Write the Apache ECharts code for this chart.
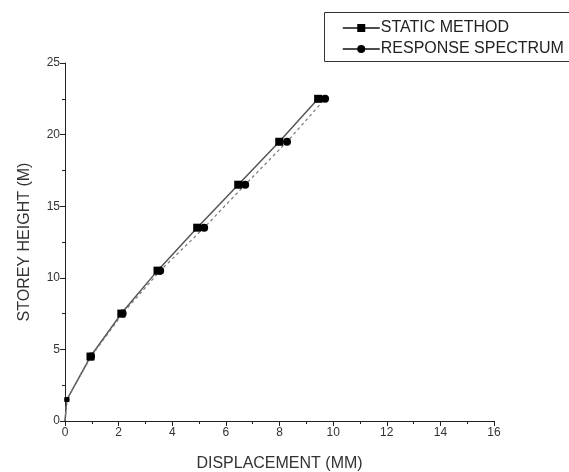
<!DOCTYPE html>
<html><head><meta charset="utf-8">
<script src="https://cdn.jsdelivr.net/npm/echarts@6/dist/echarts.min.js"></script>
<style>html,body{margin:0;padding:0;background:#fff}#c{width:569px;height:472px}</style>
</head><body><div id="c"></div>
<script>
const heights = [0, 1.5, 4.5, 7.5, 10.5, 13.5, 16.5, 19.5, 22.5];
const staticDisp = [0, 0.07, 0.95, 2.1, 3.45, 4.93, 6.46, 7.99, 9.44];
const responseDisp = [0, 0.07, 0.97, 2.15, 3.55, 5.19, 6.72, 8.28, 9.70];
const xTicks = [0, 2, 4, 6, 8, 10, 12, 14, 16];
const yTicks = [0, 5, 10, 15, 20, 25];

const font = 'Liberation Sans, Arial, sans-serif';
function pts(xs) {
  return xs.map((x, i) => {
    const p = {value: [x, heights[i]]};
    if (i === 0) p.symbol = 'none';
    if (i === 1) p.symbolSize = 5;
    return p;
  });
}
const chart = echarts.init(document.getElementById('c'));
chart.setOption({
  animation: false,
  backgroundColor: '#fff',
  grid: {left: 65, right: 75, top: 63, bottom: 51, containLabel: false, outerBoundsMode: 'none'},
  graphic: [{type: 'rect', shape: {x: 324.5, y: 12.5, width: 260, height: 49}, style: {fill: 'none', stroke: '#333', lineWidth: 1}}],
  legend: {
    orient: 'vertical', left: 337, top: 15, itemWidth: 37, itemHeight: 10, itemGap: 5,
    textStyle: {fontFamily: font, fontSize: 16, color: '#222', padding: [0,0,0,-4]},
    data: [
      {name: 'STATIC METHOD', lineStyle: {color: '#111', type: 'solid', width: 1.5}},
      {name: 'RESPONSE SPECTRUM', lineStyle: {color: '#111', type: 'solid', width: 1.5}}
    ]
  },
  xAxis: {
    type: 'value', min: 0, max: 16, interval: 2,
    name: 'DISPLACEMENT (MM)', nameLocation: 'middle', nameGap: 35,
    nameTextStyle: {fontFamily: font, fontSize: 16, color: '#333'},
    axisLine: {show: true, lineStyle: {color: '#222', width: 1}},
    axisTick: {show: true, length: 5, lineStyle: {color: '#222'}},
    minorTick: {show: true, splitNumber: 2, length: 3, lineStyle: {color: '#222'}},
    splitLine: {show: false},
    axisLabel: {fontFamily: font, fontSize: 12, color: '#333', margin: 6,
      formatter: v => xTicks.includes(v) ? String(v) : ''}
  },
  yAxis: {
    type: 'value', min: 0, max: 25, interval: 5,
    name: 'STOREY HEIGHT (M)', nameLocation: 'middle', nameGap: 32,
    nameTextStyle: {fontFamily: font, fontSize: 16, color: '#333'},
    axisLine: {show: true, lineStyle: {color: '#222', width: 1}},
    axisTick: {show: true, length: 5, lineStyle: {color: '#222'}},
    minorTick: {show: true, splitNumber: 2, length: 3, lineStyle: {color: '#222'}},
    splitLine: {show: false},
    axisLabel: {fontFamily: font, fontSize: 12, color: '#333', margin: 5,
      formatter: v => yTicks.includes(v) ? String(v) : ''}
  },
  series: [
    {name: 'STATIC METHOD', type: 'line', data: pts(staticDisp),
     symbol: 'rect', symbolSize: 8, showAllSymbol: true,
     lineStyle: {color: '#555', width: 1.5}, itemStyle: {color: '#000'}},
    {name: 'RESPONSE SPECTRUM', type: 'line', data: pts(responseDisp),
     symbol: 'circle', symbolSize: 8, showAllSymbol: true,
     lineStyle: {color: '#777', width: 1.2, type: [3, 3]}, itemStyle: {color: '#000'}}
  ]
});
</script></body></html>
